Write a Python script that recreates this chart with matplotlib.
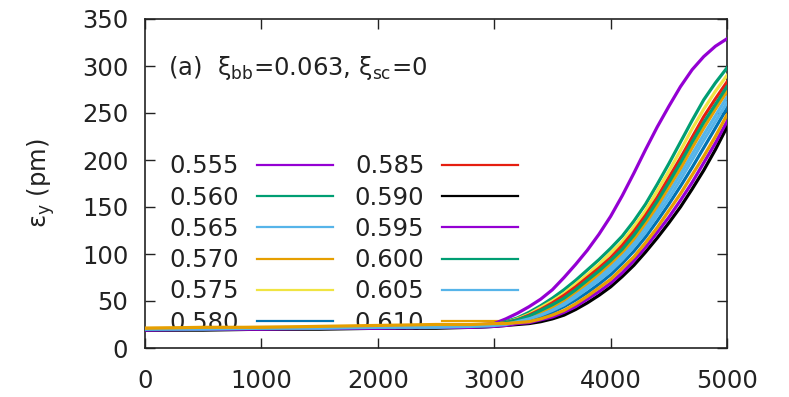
import matplotlib
matplotlib.use('Agg')
import matplotlib.pyplot as plt

plt.rcParams['font.family'] = ['DejaVu Sans']

# turn number (x) shared by all runs
turns = [0, 500, 1000, 1500, 2000, 2500, 2800,
         3000, 3100, 3200, 3300, 3400, 3500, 3600, 3700, 3800, 3900,
         4000, 4100, 4200, 4300, 4400, 4500, 4600, 4700, 4800, 4900, 5000]

# vertical emittance (pm) for each working point
eps_0555 = [20, 21, 21, 22, 22, 23, 24, 26, 31, 37, 44, 52, 62, 75, 89, 104, 121,
            140, 162, 186, 211, 235, 257, 278, 296, 310, 321, 329]
eps_0560 = [20, 21, 21, 22, 22, 23, 24, 25, 28, 32, 38, 45, 53, 62, 72, 83, 94,
            106, 119, 135, 153, 174, 196, 219, 242, 264, 282, 298]
eps_0565 = [20, 20, 21, 21, 22, 23, 23, 24, 26, 29, 32, 37, 42, 49, 57, 66, 75,
            86, 98, 112, 128, 146, 165, 185, 206, 227, 247, 267]
eps_0570 = [21, 21, 22, 22, 23, 23, 24, 24, 26, 29, 33, 38, 44, 51, 60, 69, 79,
            90, 102, 116, 133, 151, 171, 191, 213, 234, 254, 273]
eps_0575 = [20, 21, 21, 22, 22, 23, 24, 25, 27, 31, 36, 43, 50, 58, 68, 78, 89,
            101, 113, 129, 146, 167, 188, 210, 233, 254, 273, 290]
eps_0580 = [19, 20, 20, 21, 21, 22, 22, 23, 25, 27, 30, 33, 38, 44, 51, 59, 68,
            78, 90, 103, 118, 135, 153, 172, 192, 213, 234, 255]
eps_0585 = [20, 21, 21, 22, 22, 23, 24, 25, 27, 30, 35, 41, 48, 56, 65, 75, 85,
            96, 109, 124, 141, 160, 181, 202, 224, 246, 265, 283]
eps_0590 = [19, 19, 20, 20, 21, 21, 22, 23, 24, 25, 26, 28, 31, 35, 41, 48, 56,
            65, 76, 88, 102, 117, 133, 150, 169, 189, 211, 235]
eps_0595 = [19, 20, 20, 21, 21, 22, 22, 23, 24, 26, 27, 30, 33, 38, 44, 52, 60,
            69, 80, 93, 107, 123, 139, 157, 176, 197, 218, 241]
eps_0600 = [20, 21, 21, 22, 22, 23, 23, 24, 27, 30, 34, 40, 46, 53, 62, 72, 82,
            93, 105, 120, 137, 156, 176, 197, 219, 240, 259, 278]
eps_0605 = [20, 20, 21, 21, 22, 22, 23, 24, 25, 28, 31, 35, 40, 46, 54, 63, 72,
            82, 94, 108, 123, 141, 159, 179, 200, 221, 241, 261]
eps_0610 = [21, 22, 22, 23, 24, 25, 25, 26, 26, 27, 28, 31, 35, 40, 47, 55, 64,
            73, 85, 97, 112, 128, 146, 164, 184, 204, 225, 248]

labels = ['0.555', '0.560', '0.565', '0.570', '0.575', '0.580',
          '0.585', '0.590', '0.595', '0.600', '0.605', '0.610']
series = [eps_0555, eps_0560, eps_0565, eps_0570, eps_0575, eps_0580,
          eps_0585, eps_0590, eps_0595, eps_0600, eps_0605, eps_0610]
colors = ['#9400d3', '#009e73', '#56b4e9', '#e69f00', '#f0e442', '#0072b2',
          '#e51e10', '#000000', '#9400d3', '#009e73', '#56b4e9', '#e69f00']

fs = 17.5
fig = plt.figure(figsize=(7.89, 3.97), dpi=100)
ax = fig.add_axes([145/789, 1 - 348/397, 582/789, 329/397])

for y, lab, c in zip(series, labels, colors):
    ax.plot(turns, y, color=c, lw=2.3, label=lab, zorder=3)

ax.set_xlim(0, 5000)
ax.set_ylim(0, 350)
ax.set_xticks(range(0, 5001, 1000))
ax.set_yticks(range(0, 351, 50))
ax.tick_params(direction='in', length=7, width=1, top=True, right=True,
               labelsize=fs, colors='#222222')
ax.tick_params(axis='y', pad=12)
ax.tick_params(axis='x', pad=15)
for s in ax.spines.values():
    s.set_linewidth(1.2)
    s.set_color('#222222')

ax.text(0.040, 0.851, r'(a)  ξ$_\mathrm{bb}$=0.063, ξ$_\mathrm{sc}$=0',
        transform=ax.transAxes, fontsize=fs, va='center', ha='left',
        color='#222222')

fig.text(41/789, 1 - 183/397, r'ε$_\mathrm{y}$ (pm)', rotation=90,
         ha='center', va='center', fontsize=fs, color='#222222')

leg = ax.legend(ncol=2, loc='upper left', bbox_to_anchor=(0.042, 0.589),
                frameon=False, fontsize=fs, markerfirst=False,
                handlelength=3.1, handletextpad=0.75, columnspacing=0.9,
                labelspacing=0.3, borderaxespad=0, borderpad=0)
leg.set_zorder(1)
for line in leg.get_lines():
    line.set_linewidth(1.6)
for t in leg.get_texts():
    t.set_color('#222222')

fig.savefig('out.png', dpi=100)
